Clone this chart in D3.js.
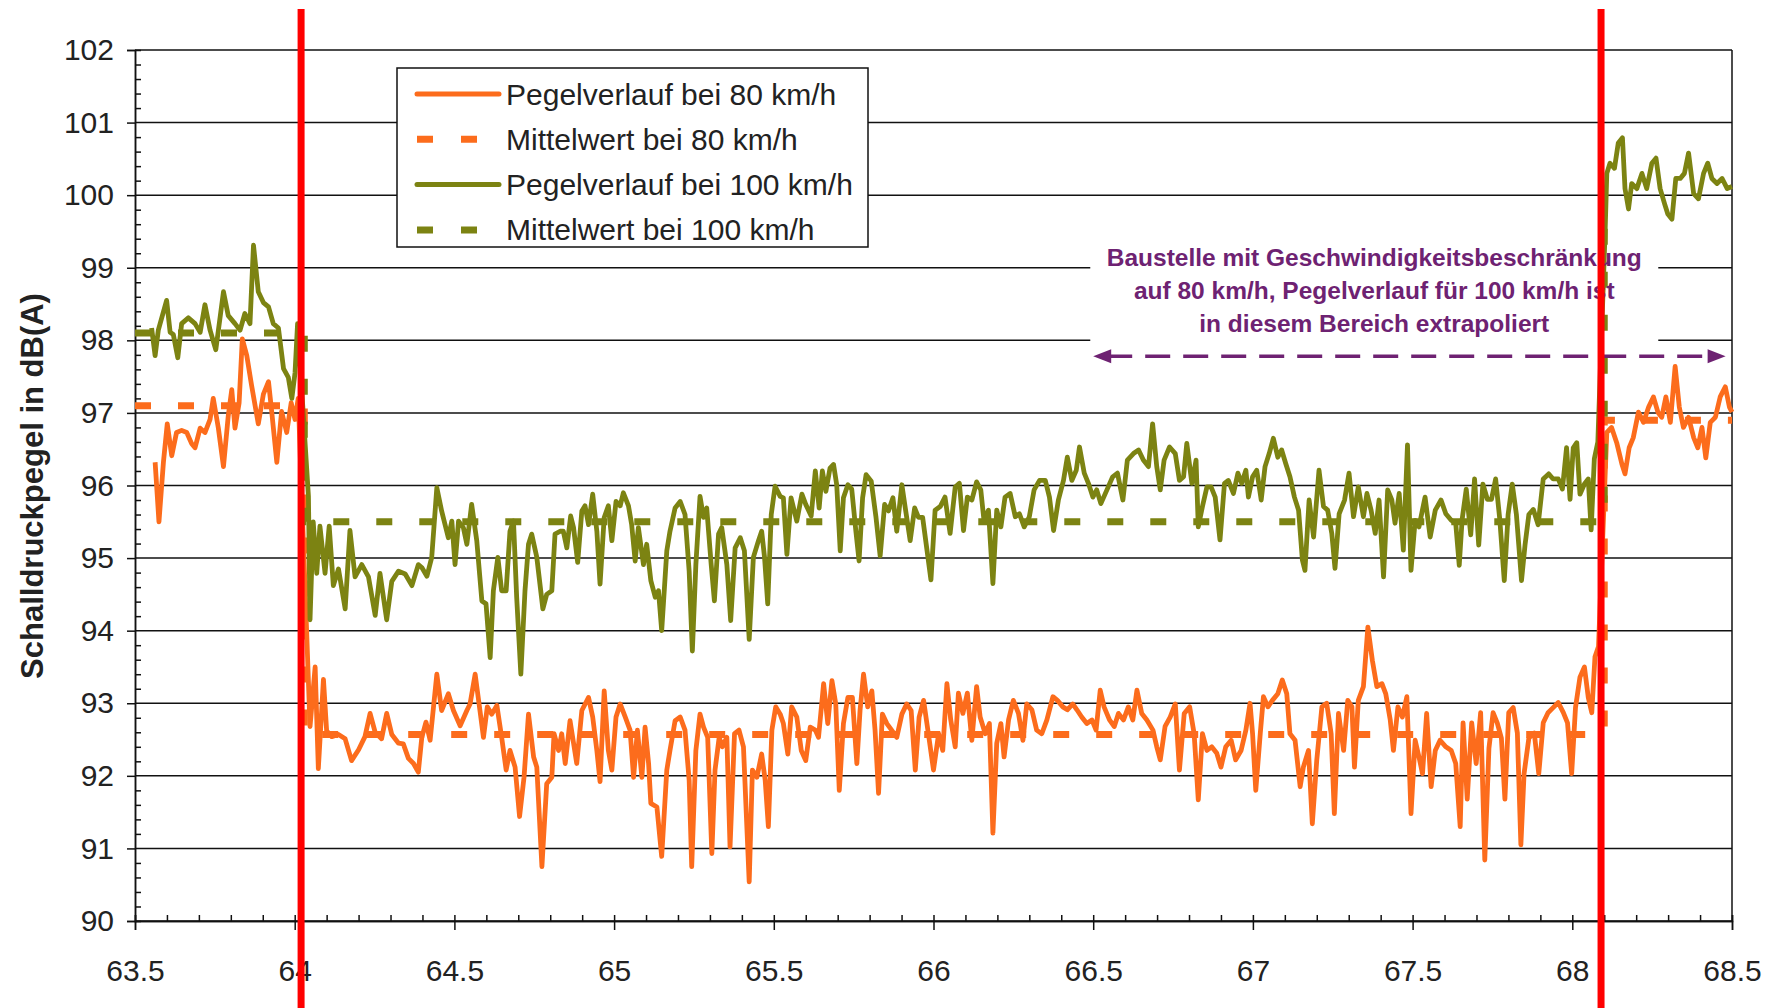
<!DOCTYPE html>
<html>
<head>
<meta charset="utf-8">
<script src="https://cdn.jsdelivr.net/npm/d3@7"></script>
<style>
  body { margin: 0; background: #fff; }
  svg { display: block; font-family: "Liberation Sans", Arial, sans-serif; }
</style>
</head>
<body>
<div id="chart"></div>
<script>
// axis ticks
var xTicks = [63.5, 64, 64.5, 65, 65.5, 66, 66.5, 67, 67.5, 68, 68.5];
var yTicks = [90, 91, 92, 93, 94, 95, 96, 97, 98, 99, 100, 101, 102];

var legendNames = ["Pegelverlauf bei 80 km/h", "Mittelwert bei 80 km/h",
                   "Pegelverlauf bei 100 km/h", "Mittelwert bei 100 km/h"];

// [km, dB(A)]
var pegel80 = [
  [63.563,96.32],[63.575,95.50],[63.589,96.32],[63.601,96.85],[63.615,96.41],[63.630,96.73],[63.646,96.76],[63.662,96.73],
  [63.677,96.58],[63.688,96.52],[63.704,96.79],[63.719,96.73],[63.735,96.91],[63.745,97.20],[63.761,96.79],[63.777,96.26],
  [63.792,96.96],[63.803,97.32],[63.813,96.79],[63.826,97.14],[63.836,98.02],[63.850,97.79],[63.865,97.38],[63.886,96.85],
  [63.902,97.26],[63.918,97.43],[63.928,97.02],[63.944,96.32],[63.959,97.02],[63.975,96.73],[63.989,97.14],[64.001,96.91],
  [64.011,97.20],
  [64.038,93.91],[64.048,92.68],[64.064,93.50],[64.074,92.10],[64.090,93.33],[64.100,92.62],[64.116,92.54],[64.137,92.57],
  [64.158,92.51],[64.178,92.21],[64.200,92.36],[64.220,92.54],[64.236,92.86],[64.252,92.60],[64.272,92.51],[64.288,92.86],
  [64.304,92.57],[64.325,92.45],[64.340,92.44],[64.356,92.24],[64.372,92.17],[64.387,92.05],[64.398,92.53],[64.411,92.74],
  [64.424,92.49],[64.445,93.40],[64.460,92.90],[64.481,93.13],[64.497,92.90],[64.518,92.69],[64.539,92.90],[64.549,92.99],
  [64.565,93.40],[64.580,92.90],[64.591,92.53],[64.603,92.95],[64.617,92.85],[64.633,92.97],[64.648,92.53],[64.662,92.08],
  [64.674,92.35],[64.690,92.12],[64.704,91.44],[64.718,91.98],[64.732,92.85],[64.748,92.26],[64.758,92.12],[64.774,90.75],
  [64.789,91.89],[64.805,91.98],[64.812,92.58],[64.826,92.35],[64.836,92.58],[64.847,92.17],[64.862,92.76],[64.883,92.17],
  [64.899,92.90],[64.920,93.08],[64.933,92.81],[64.946,92.35],[64.956,91.92],[64.969,93.17],[64.982,92.35],[64.993,92.08],
  [65.006,92.81],[65.019,92.99],[65.035,92.81],[65.050,92.63],[65.061,91.98],[65.073,92.63],[65.087,91.98],[65.097,92.67],
  [65.108,92.17],[65.115,91.62],[65.134,91.57],[65.149,90.89],[65.165,92.08],[65.175,92.35],[65.191,92.76],[65.207,92.81],
  [65.222,92.63],[65.235,91.94],[65.243,90.75],[65.256,92.35],[65.269,92.85],[65.280,92.67],[65.293,92.53],[65.306,90.93],
  [65.316,92.08],[65.329,92.53],[65.339,92.40],[65.353,92.53],[65.363,91.02],[65.377,92.58],[65.391,92.63],[65.405,92.40],
  [65.423,90.54],[65.433,92.08],[65.447,91.98],[65.462,92.30],[65.473,91.94],[65.483,91.30],[65.494,92.63],[65.506,92.95],
  [65.520,92.85],[65.530,92.72],[65.544,92.30],[65.556,92.95],[65.572,92.81],[65.586,92.35],[65.600,92.21],[65.614,92.67],
  [65.630,92.63],[65.640,92.53],[65.656,93.27],[65.669,92.72],[65.682,93.31],[65.694,92.99],[65.705,91.80],[65.718,92.72],
  [65.732,93.08],[65.746,93.08],[65.760,92.17],[65.770,92.90],[65.781,93.40],[65.794,92.95],[65.807,93.17],[65.817,92.63],
  [65.828,91.76],[65.840,92.85],[65.854,92.72],[65.869,92.63],[65.885,92.53],[65.901,92.85],[65.916,92.99],[65.930,92.90],
  [65.943,92.08],[65.955,92.81],[65.969,93.04],[65.984,92.58],[66.000,92.08],[66.016,92.58],[66.029,92.35],[66.042,93.27],
  [66.054,92.77],[66.068,92.40],[66.078,93.14],[66.092,92.86],[66.106,93.14],[66.120,92.49],[66.135,93.23],[66.146,92.81],
  [66.162,92.58],[66.175,92.72],[66.186,91.21],[66.198,92.45],[66.211,92.72],[66.221,92.26],[66.235,92.77],[66.250,93.04],
  [66.266,92.86],[66.280,92.49],[66.292,92.99],[66.308,92.91],[66.323,92.63],[66.339,92.58],[66.355,92.77],[66.374,93.09],
  [66.388,93.04],[66.405,92.95],[66.419,92.91],[66.436,92.99],[66.449,92.91],[66.464,92.81],[66.480,92.72],[66.496,92.77],
  [66.509,92.63],[66.522,93.18],[66.534,92.95],[66.551,92.77],[66.566,92.68],[66.579,92.86],[66.595,92.77],[66.610,92.95],
  [66.624,92.77],[66.637,93.18],[66.652,92.86],[66.668,92.77],[66.687,92.63],[66.699,92.40],[66.710,92.22],[66.725,92.68],
  [66.741,92.81],[66.757,92.99],[66.770,92.08],[66.785,92.86],[66.802,92.95],[66.816,92.58],[66.829,91.67],[66.842,92.58],
  [66.856,92.35],[66.871,92.40],[66.887,92.31],[66.900,92.12],[66.915,92.40],[66.932,92.49],[66.946,92.22],[66.963,92.35],
  [66.978,92.63],[66.991,93.00],[66.999,92.58],[67.009,91.80],[67.023,92.58],[67.033,93.09],[67.047,92.95],[67.061,93.04],
  [67.078,93.13],[67.092,93.32],[67.106,93.13],[67.116,92.58],[67.132,92.49],[67.148,91.85],[67.158,92.12],[67.174,92.35],
  [67.186,91.34],[67.200,92.22],[67.216,92.95],[67.231,93.00],[67.245,92.58],[67.255,91.48],[67.268,92.86],[67.284,92.35],
  [67.297,93.04],[67.310,92.95],[67.318,92.12],[67.330,93.04],[67.346,93.23],[67.360,94.05],[67.374,93.59],[67.388,93.23],
  [67.404,93.27],[67.416,93.13],[67.430,92.77],[67.440,92.35],[67.454,92.95],[67.468,92.81],[67.482,93.09],[67.495,91.48],
  [67.508,92.49],[67.520,92.26],[67.531,92.03],[67.544,92.86],[67.558,91.85],[67.571,92.35],[67.586,92.49],[67.604,92.40],
  [67.621,92.35],[67.635,92.17],[67.649,91.30],[67.658,92.73],[67.671,91.68],[67.685,92.73],[67.699,92.17],[67.713,92.87],
  [67.726,90.84],[67.739,92.38],[67.752,92.87],[67.765,92.73],[67.778,92.52],[67.789,91.68],[67.801,92.87],[67.815,92.94],
  [67.828,92.59],[67.839,91.05],[67.849,92.03],[67.864,92.52],[67.881,92.59],[67.895,92.03],[67.909,92.73],[67.924,92.87],
  [67.940,92.94],[67.956,93.01],[67.972,92.87],[67.985,92.73],[67.998,92.03],[68.010,92.94],[68.024,93.36],[68.038,93.50],
  [68.050,93.08],[68.061,92.87],[68.071,93.64],[68.082,93.78],
  [68.108,96.73],[68.123,96.80],[68.139,96.59],[68.155,96.30],[68.165,96.16],[68.178,96.52],[68.191,96.66],[68.207,97.01],
  [68.223,96.87],[68.239,97.08],[68.254,97.22],[68.268,97.01],[68.280,96.94],[68.293,97.22],[68.307,96.87],[68.322,97.64],
  [68.335,97.08],[68.348,96.80],[68.364,96.94],[68.380,96.66],[68.393,96.52],[68.406,96.80],[68.418,96.38],[68.432,96.87],
  [68.448,96.94],[68.463,97.22],[68.479,97.36],[68.492,97.08],[68.500,97.01]
];

var pegel100 = [
  [63.552,98.17],[63.563,97.79],[63.573,98.14],[63.599,98.55],[63.610,98.11],[63.620,98.08],[63.634,97.76],[63.646,98.23],
  [63.667,98.31],[63.688,98.23],[63.704,98.11],[63.719,98.49],[63.735,98.14],[63.753,97.87],[63.777,98.67],[63.792,98.34],
  [63.813,98.23],[63.829,98.14],[63.844,98.37],[63.860,98.23],[63.871,99.31],[63.886,98.67],[63.902,98.52],[63.918,98.46],
  [63.933,98.23],[63.949,98.17],[63.965,97.61],[63.980,97.49],[63.991,97.20],[64.001,97.55],[64.009,98.23],
  [64.043,95.85],[64.048,94.15],[64.058,95.50],[64.069,94.79],[64.079,95.44],[64.095,94.79],[64.108,95.44],[64.121,94.62],
  [64.137,94.85],[64.158,94.30],[64.173,95.38],[64.189,94.74],[64.210,94.91],[64.231,94.74],[64.252,94.21],[64.267,94.79],
  [64.288,94.15],[64.304,94.68],[64.325,94.82],[64.346,94.78],[64.367,94.62],[64.387,94.91],[64.398,94.87],[64.414,94.75],
  [64.429,95.01],[64.445,95.97],[64.460,95.65],[64.481,95.28],[64.492,95.51],[64.502,94.91],[64.513,95.51],[64.528,95.42],
  [64.539,95.19],[64.554,95.74],[64.570,95.24],[64.586,94.41],[64.599,94.37],[64.612,93.63],[64.622,94.55],[64.636,95.01],
  [64.648,94.55],[64.662,94.55],[64.674,95.37],[64.685,95.51],[64.695,94.46],[64.708,93.40],[64.721,94.55],[64.732,95.19],
  [64.742,95.33],[64.758,95.01],[64.777,94.30],[64.789,94.50],[64.805,94.55],[64.815,95.33],[64.831,95.37],[64.841,95.37],
  [64.852,95.14],[64.864,95.58],[64.873,95.42],[64.886,94.94],[64.899,95.65],[64.909,95.72],[64.920,95.46],[64.933,95.88],
  [64.946,95.37],[64.956,94.64],[64.969,95.56],[64.982,95.72],[64.993,95.24],[65.006,95.78],[65.019,95.72],[65.029,95.90],
  [65.045,95.72],[65.055,95.46],[65.066,94.96],[65.076,95.42],[65.092,94.91],[65.102,95.19],[65.115,94.69],[65.129,94.46],
  [65.139,94.55],[65.149,94.00],[65.165,95.10],[65.175,95.37],[65.191,95.69],[65.207,95.78],[65.222,95.60],[65.235,94.82],
  [65.245,93.72],[65.256,94.91],[65.269,95.85],[65.280,95.56],[65.290,95.69],[65.304,94.91],[65.314,94.41],[65.327,95.33],
  [65.337,95.42],[65.353,94.91],[65.365,94.14],[65.379,95.14],[65.395,95.28],[65.408,95.10],[65.423,93.88],[65.436,95.01],
  [65.452,95.24],[65.462,95.37],[65.471,95.01],[65.481,94.37],[65.492,95.60],[65.504,95.99],[65.520,95.85],[65.530,95.83],
  [65.541,95.05],[65.554,95.83],[65.572,95.51],[65.588,95.88],[65.600,95.74],[65.617,95.58],[65.630,96.20],[65.642,95.69],
  [65.652,96.20],[65.663,95.92],[65.676,96.24],[65.687,96.29],[65.697,96.01],[65.708,95.10],[65.718,95.83],[65.732,96.01],
  [65.744,95.95],[65.757,95.37],[65.767,94.96],[65.778,95.83],[65.789,96.15],[65.805,96.06],[65.820,95.56],[65.833,95.03],
  [65.847,95.74],[65.859,95.65],[65.873,95.83],[65.885,95.37],[65.901,96.01],[65.913,95.65],[65.927,95.24],[65.941,95.69],
  [65.953,95.56],[65.966,95.56],[65.992,94.70],[66.005,95.66],[66.021,95.71],[66.036,95.84],[66.052,95.34],[66.068,95.98],
  [66.081,96.03],[66.094,95.38],[66.106,95.84],[66.120,95.80],[66.135,96.05],[66.148,95.94],[66.158,95.52],[66.172,95.66],
  [66.186,94.65],[66.198,95.66],[66.211,95.43],[66.224,95.84],[66.240,95.89],[66.256,95.57],[66.269,95.61],[66.284,95.43],
  [66.300,95.57],[66.315,95.94],[66.332,96.07],[66.350,96.07],[66.363,95.84],[66.376,95.38],[66.391,95.80],[66.407,96.07],
  [66.419,96.39],[66.433,96.07],[66.447,96.21],[66.457,96.53],[66.472,96.17],[66.485,96.03],[66.499,95.84],[66.511,95.94],
  [66.524,95.75],[66.543,95.94],[66.561,96.12],[66.576,96.17],[66.593,95.80],[66.607,96.35],[66.626,96.44],[66.642,96.49],
  [66.657,96.35],[66.673,96.26],[66.686,96.85],[66.699,96.26],[66.710,95.94],[66.722,96.35],[66.739,96.53],[66.757,96.44],
  [66.770,96.07],[66.783,96.12],[66.793,96.58],[66.809,96.03],[66.822,96.35],[66.829,95.43],[66.842,95.71],[66.856,95.98],
  [66.869,95.98],[66.882,95.84],[66.897,95.25],[66.911,96.03],[66.923,96.07],[66.939,95.89],[66.953,96.17],[66.965,96.03],
  [66.978,96.21],[66.986,95.84],[66.999,96.12],[67.012,96.21],[67.026,95.80],[67.038,96.26],[67.051,96.44],[67.064,96.65],
  [67.078,96.39],[67.090,96.49],[67.103,96.30],[67.116,96.12],[67.130,95.84],[67.143,95.66],[67.155,94.97],[67.163,94.83],
  [67.176,95.80],[67.190,95.29],[67.207,96.21],[67.221,95.71],[67.234,95.66],[67.247,95.34],[67.257,94.86],[67.270,95.61],
  [67.287,95.80],[67.301,96.17],[67.315,95.57],[67.330,95.98],[67.346,95.57],[67.357,95.89],[67.370,95.66],[67.383,95.34],
  [67.395,95.80],[67.409,94.74],[67.422,95.94],[67.435,95.80],[67.445,95.48],[67.458,95.89],[67.471,95.11],[67.484,96.56],
  [67.495,94.83],[67.508,95.52],[67.520,95.43],[67.539,95.84],[67.555,95.29],[67.571,95.66],[67.589,95.80],[67.604,95.61],
  [67.621,95.52],[67.635,95.48],[67.646,94.90],[67.655,95.53],[67.668,95.95],[67.682,95.32],[67.694,96.09],[67.707,95.18],
  [67.720,96.02],[67.734,95.81],[67.747,95.81],[67.760,96.09],[67.773,95.53],[67.787,94.69],[67.799,95.60],[67.812,96.02],
  [67.825,95.60],[67.841,94.69],[67.852,95.18],[67.864,95.60],[67.878,95.67],[67.893,95.46],[67.909,96.09],[67.926,96.16],
  [67.940,96.09],[67.956,96.09],[67.969,95.95],[67.982,96.52],[67.993,95.81],[68.003,96.52],[68.014,96.59],[68.024,95.88],
  [68.038,96.02],[68.050,96.09],[68.059,95.39],[68.069,96.37],[68.080,96.60],
  [68.103,99.53],[68.108,100.30],[68.118,100.44],[68.132,100.37],[68.144,100.72],[68.157,100.79],[68.165,100.09],[68.176,99.81],
  [68.186,100.16],[68.202,100.09],[68.218,100.30],[68.233,100.09],[68.249,100.44],[68.262,100.51],[68.275,100.09],[68.289,99.88],
  [68.299,99.74],[68.312,99.67],[68.324,100.23],[68.338,100.23],[68.351,100.30],[68.364,100.58],[68.380,100.02],[68.395,99.95],
  [68.411,100.30],[68.424,100.44],[68.437,100.23],[68.453,100.16],[68.469,100.23],[68.485,100.09],[68.500,100.12]
];

// step-shaped mean levels
var mittel80  = [[63.5,97.1],[64.03,97.1],[64.03,92.57],[68.1,92.57],[68.1,96.9],[68.5,96.9]];
var mittel100 = [[63.5,98.1],[64.03,98.1],[64.03,95.5],[68.1,95.5],[68.1,100.2]];

// borders of the construction zone (km)
var baustelleKm = [64.02, 68.09];

var noteLines = ["Baustelle mit Geschwindigkeitsbeschränkung",
                 "auf 80 km/h, Pegelverlauf für 100 km/h ist",
                 "in diesem Bereich extrapoliert"];
var arrowKm = [66.5, 68.48];
var arrowLevel = 97.78;
var noteKm = 67.38;

var orange = "#fc6c1c", olive = "#7c8312", purple = "#6e2272";

var W = 1777, H = 1008;
var margin = { top: 50, right: 45, bottom: 87, left: 135 };
var width  = W - margin.left - margin.right;
var height = H - margin.top  - margin.bottom;

var x = d3.scaleLinear().domain([63.5, 68.5]).range([0, width]);
var y = d3.scaleLinear().domain([90, 102]).range([height, 0]);

var svg = d3.select("#chart").append("svg")
    .attr("width", W).attr("height", H);
svg.append("rect").attr("width", W).attr("height", H).attr("fill", "#fff");

var g = svg.append("g")
    .attr("transform", "translate(" + margin.left + "," + margin.top + ")");

// horizontal grid
g.selectAll(".grid").data(yTicks).enter().append("line")
    .attr("class", "grid")
    .attr("x1", 0).attr("x2", width)
    .attr("y1", function(d) { return y(d); })
    .attr("y2", function(d) { return y(d); })
    .attr("stroke", "#111").attr("stroke-width", 1.5);

g.append("line")
    .attr("x1", width).attr("x2", width).attr("y1", 0).attr("y2", height)
    .attr("stroke", "#111").attr("stroke-width", 1.5);

// white box behind the note
var cx = x(noteKm);
g.append("rect")
    .attr("x", cx - 284).attr("y", 188).attr("width", 568).attr("height", 106)
    .attr("fill", "#fff");

// axes
var minorY = d3.range(90, 102.001, 0.2).filter(function(d) { return Math.abs(d - Math.round(d)) > 0.01; });
var minorX = d3.range(63.5, 68.501, 0.1);

var yAxis = d3.axisLeft(y).tickValues(yTicks).tickSize(8).tickPadding(13)
    .tickFormat(function(d) { return d; });
var gy = g.append("g").call(yAxis);
g.append("g").call(d3.axisRight(y).tickValues(minorY).tickSize(6).tickFormat(""));

var xAxis = d3.axisBottom(x).tickValues(xTicks).tickSize(9).tickPadding(30)
    .tickFormat(function(d) { return d; });
var gx = g.append("g").attr("transform", "translate(0," + height + ")").call(xAxis);
g.append("g").attr("transform", "translate(0," + height + ")")
    .call(d3.axisTop(x).tickValues(minorX).tickSize(6).tickFormat(""));

g.selectAll(".domain").attr("stroke", "#111").attr("stroke-width", 1.5);
g.selectAll(".tick line").attr("stroke", "#111").attr("stroke-width", 1.5);
g.selectAll(".tick text")
    .attr("font-family", "Liberation Sans, Arial, sans-serif")
    .attr("font-size", 30).attr("fill", "#222");

// series
var line = d3.line()
    .x(function(d) { return x(d[0]); })
    .y(function(d) { return y(d[1]); });

g.append("path").datum(pegel80).attr("d", line)
    .attr("fill", "none").attr("stroke", orange).attr("stroke-width", 4.8)
    .attr("stroke-linejoin", "round");
g.append("path").datum(mittel80).attr("d", line)
    .attr("fill", "none").attr("stroke", orange).attr("stroke-width", 7)
    .attr("stroke-dasharray", "16 27");
g.append("path").datum(mittel100).attr("d", line)
    .attr("fill", "none").attr("stroke", olive).attr("stroke-width", 7)
    .attr("stroke-dasharray", "16 27");
g.append("path").datum(pegel100).attr("d", line)
    .attr("fill", "none").attr("stroke", olive).attr("stroke-width", 4.8)
    .attr("stroke-linejoin", "round");

// note text
g.selectAll(".note").data(noteLines).enter().append("text")
    .attr("class", "note")
    .attr("x", cx)
    .attr("y", function(d, i) { return 216 + i * 33; })
    .attr("text-anchor", "middle")
    .attr("font-size", 24.5).attr("font-weight", "bold")
    .attr("fill", purple)
    .text(function(d) { return d; });

// double arrow
var ay = y(arrowLevel), ax0 = x(arrowKm[0]), ax1 = x(arrowKm[1]);
g.append("line")
    .attr("x1", ax0 + 14).attr("x2", ax1 - 14).attr("y1", ay).attr("y2", ay)
    .attr("stroke", purple).attr("stroke-width", 3.5).attr("stroke-dasharray", "25 13");
g.append("path")
    .attr("d", "M" + ax0 + "," + ay + "l18,-7v14z")
    .attr("fill", purple);
g.append("path")
    .attr("d", "M" + ax1 + "," + ay + "l-18,-7v14z")
    .attr("fill", purple);

// legend
var legend = svg.append("g").attr("transform", "translate(397,68)");
legend.append("rect").attr("width", 471).attr("height", 179)
    .attr("fill", "#fff").attr("stroke", "#111").attr("stroke-width", 1.5);
var legendStyle = [
  { color: orange, dash: null,    w: 5 },
  { color: orange, dash: "16 28", w: 7 },
  { color: olive,  dash: null,    w: 5 },
  { color: olive,  dash: "16 28", w: 7 }
];
var items = legend.selectAll(".item").data(legendNames).enter().append("g")
    .attr("transform", function(d, i) { return "translate(0," + (26 + i * 45.3) + ")"; });
items.append("line")
    .attr("x1", 20).attr("x2", 102)
    .attr("stroke", function(d, i) { return legendStyle[i].color; })
    .attr("stroke-width", function(d, i) { return legendStyle[i].w; })
    .attr("stroke-linecap", function(d, i) { return legendStyle[i].dash ? "butt" : "round"; })
    .attr("stroke-dasharray", function(d, i) { return legendStyle[i].dash; });
items.append("text")
    .attr("x", 109).attr("y", 10.5)
    .attr("font-size", 30).attr("fill", "#222")
    .text(function(d) { return d; });

// y title
svg.append("text")
    .attr("transform", "translate(32,486) rotate(-90)")
    .attr("text-anchor", "middle").attr("dy", "0.35em")
    .attr("font-size", 31).attr("font-weight", "bold").attr("fill", "#222")
    .text("Schalldruckpegel in dB(A)");

// red borders of the construction zone
svg.selectAll(".zone").data(baustelleKm).enter().append("line")
    .attr("class", "zone")
    .attr("x1", function(d) { return margin.left + x(d); })
    .attr("x2", function(d) { return margin.left + x(d); })
    .attr("y1", 9).attr("y2", H)
    .attr("stroke", "#ff0000").attr("stroke-width", 7);
</script>
</body>
</html>
